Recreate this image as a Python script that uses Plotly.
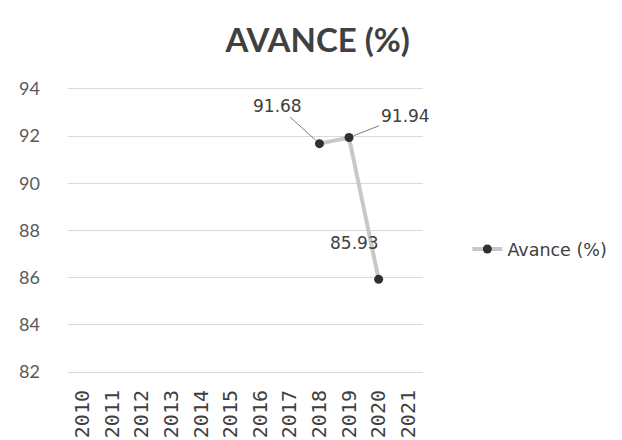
import plotly.graph_objects as go

years = list(range(2010, 2022))
data_years = [2018, 2019, 2020]
values = [91.68, 91.94, 85.93]
label_text = ["91.68", "91.94", "85.93"]
label_ax = [-42, 56, -24]
label_ay = [-38, -22, -36]
label_arrow = [True, True, False]
y_ticks = [82, 84, 86, 88, 90, 92, 94]

fig = go.Figure()
fig.add_trace(go.Scatter(
    x=data_years, y=values, mode="lines+markers", name="Avance (%)",
    line=dict(color="#C8C8C8", width=4),
    marker=dict(color="#303030", size=9),
))

for xv, yv, t, ax, ay, arr in zip(data_years, values, label_text, label_ax, label_ay, label_arrow):
    fig.add_annotation(
        x=xv, y=yv, text=t, showarrow=True,
        arrowhead=0, arrowwidth=1, arrowcolor="#808080" if arr else "rgba(0,0,0,0)",
        ax=ax, ay=ay, standoff=5,
        font=dict(family="DejaVu Sans", size=17, color="#404040"),
    )

fig.update_layout(
    width=622, height=440,
    margin=dict(l=60, r=207, t=79, b=74, autoexpand=False),
    paper_bgcolor="white", plot_bgcolor="white",
    title=dict(text="<b>AVANCE (%)</b>", x=0.498, xanchor="center", y=0.927, yanchor="middle",
               font=dict(family="Lato", size=33, color="#404040")),
    showlegend=True,
    legend=dict(x=1.125, y=0.435, xanchor="left", yanchor="middle",
                font=dict(family="DejaVu Sans", size=17.5, color="#404040"),
                bgcolor="rgba(0,0,0,0)"),
    xaxis=dict(range=[years[0] - 0.5, years[-1] + 0.5], tickmode="array", tickvals=years,
               ticktext=[str(y) for y in years], automargin=False,
               tickangle=-90, showgrid=False, showline=False, ticks="", zeroline=False,
               ticklabelstandoff=11,
               tickfont=dict(family="DejaVu Sans Mono", size=20, color="#404040")),
    yaxis=dict(range=[81.92, 94.08], tickvals=y_ticks, showgrid=True, gridcolor="#DADADA",
               gridwidth=1, zeroline=False, showline=False, ticks="", automargin=False,
               ticklabelstandoff=27,
               tickfont=dict(family="Lato", size=18, color="#595959")),
)

fig.write_html("out.html")
